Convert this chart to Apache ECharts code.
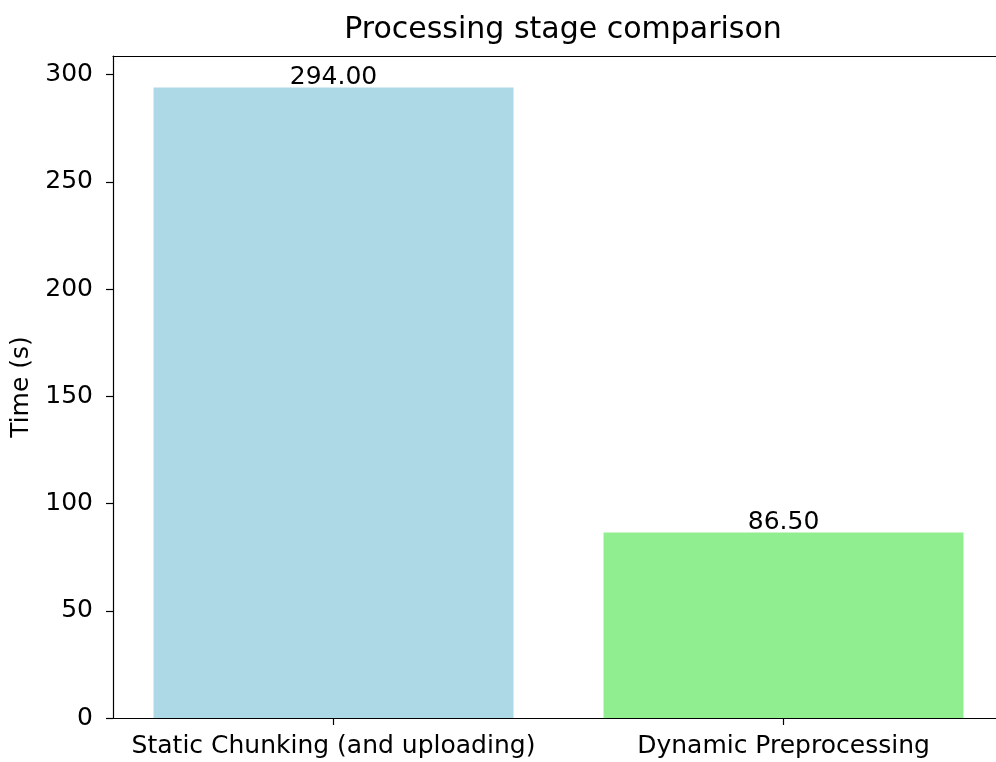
<!DOCTYPE html>
<html>
<head>
<meta charset="utf-8">
<title>Processing stage comparison</title>
<script src="https://cdn.jsdelivr.net/npm/echarts@6/dist/echarts.min.js"></script>
<style>
  html, body { margin: 0; padding: 0; background: #fff; }
  #chart { width: 996px; height: 762px; }
</style>
</head>
<body>
<div id="chart"></div>
<script>
// data
const stages = ['Static Chunking (and uploading)', 'Dynamic Preprocessing']
const times = [294.0, 86.5]
const barColors = ['#ADD8E6', '#90EE90']
const yTicks = [0, 50, 100, 150, 200, 250, 300]

const font = 'DejaVu Sans'
const tickSize = 25
const chart = echarts.init(document.getElementById('chart'))

// x is a value axis so bars sit where matplotlib puts them (-0.49 .. ~1.47, right spine cut off)
const xIdx = stages.map((_, i) => i)

chart.setOption({
  animation: false,
  backgroundColor: '#fff',
  title: {
    text: 'Processing stage comparison',
    left: 558, top: 10,
    textAlign: 'center',
    textStyle: { fontFamily: font, fontSize: 30, fontWeight: 'normal', color: '#000' },
  },
  grid: { left: 113, right: 0, top: 56, bottom: 44, outerBoundsMode: 'none' },
  xAxis: [{
    type: 'value',
    min: -0.49, max: 1.4722,
    splitLine: { show: false },
    axisLine: { show: true, onZero: false, lineStyle: { color: '#000', width: 1.2 } },
    axisTick: { show: true, customValues: xIdx, length: 7, lineStyle: { color: '#000', width: 1.2 } },
    axisLabel: {
      customValues: xIdx,
      margin: 16,
      fontFamily: font, fontSize: tickSize, color: '#000',
      formatter: v => stages[Math.round(v)] || '',
    },
  }, {
    // top spine only
    type: 'value', position: 'top',
    min: -0.49, max: 1.4722,
    splitLine: { show: false },
    axisLine: { show: true, onZero: false, lineStyle: { color: '#000', width: 1.2 } },
    axisTick: { show: false },
    axisLabel: { show: false },
  }],
  yAxis: {
    type: 'value',
    min: 0, max: 294 * 1.05,
    name: 'Time (s)',
    nameLocation: 'middle',
    nameGap: 74,
    nameTextStyle: { fontFamily: font, fontSize: tickSize, color: '#000' },
    splitLine: { show: false },
    axisLine: { show: true, onZero: false, lineStyle: { color: '#000', width: 1.2 } },
    axisTick: { show: true, customValues: yTicks, length: 7, lineStyle: { color: '#000', width: 1.2 } },
    axisLabel: { customValues: yTicks, margin: 20, fontFamily: font, fontSize: tickSize, color: '#000' },
  },
  series: [{
    type: 'bar',
    xAxisIndex: 0,
    barWidth: 360,
    data: times.map((t, i) => ({ value: [i, t], itemStyle: { color: barColors[i] } })),
    label: {
      show: true, position: 'top', distance: -2,
      fontFamily: font, fontSize: tickSize, color: '#000',
      formatter: p => p.value[1].toFixed(2),
    },
  }],
})
</script>
</body>
</html>
